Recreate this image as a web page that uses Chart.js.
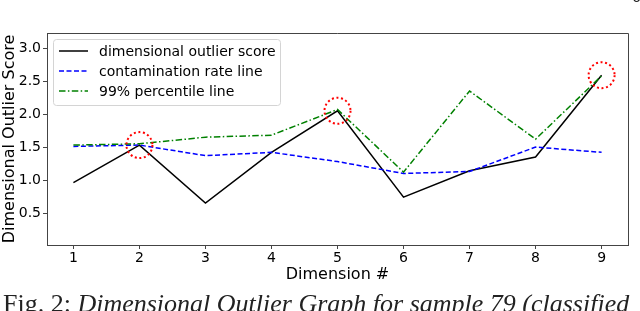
<!DOCTYPE html>
<html>
<head>
<meta charset="utf-8">
<script src="https://cdn.jsdelivr.net/npm/chart.js@4/dist/chart.umd.min.js"></script>
<style>
  html, body { margin: 0; padding: 0; background: #fff; }
  #wrap { position: relative; width: 640px; height: 311px; overflow: hidden; }
  #outlierChart { position: absolute; left: 0; top: 0; }
  #caption {
    position: absolute; left: 3px; top: 289px; white-space: nowrap;
    font-family: "Liberation Serif", serif; font-size: 26px; color: #222;
  }
  #caption i { font-style: italic; }
  #pageNum {
    position: absolute; left: 632px; top: -11px;
    font-family: "DejaVu Sans", sans-serif; font-size: 14px; color: #222;
  }
</style>
</head>
<body>
<div id="wrap">
  <canvas id="outlierChart" width="640" height="311"></canvas>
  <div id="pageNum">6</div>
  <div id="caption">Fig. 2: <i>Dimensional Outlier Graph for sample 79 (classified</i></div>
</div>
<script>
// 차원 번호 (x축)
const dimensions = [1, 2, 3, 4, 5, 6, 7, 8, 9];

// 그림에서 읽은 값들
const outlierScore = [0.96, 1.53, 0.65, 1.42, 2.05, 0.74, 1.14, 1.35, 2.59];
const contaminationLine = [1.51, 1.53, 1.37, 1.42, 1.28, 1.10, 1.13, 1.50, 1.42];
const percentileLine = [1.53, 1.55, 1.65, 1.68, 2.07, 1.12, 2.35, 1.62, 2.58];

// 빨간 점선 원으로 표시된 차원
const outlierDims = [2, 5, 9];

// 축 눈금
const yTicks = [0.5, 1.0, 1.5, 2.0, 2.5, 3.0];
const xTicks = [1, 2, 3, 4, 5, 6, 7, 8, 9];

const FONT = "'DejaVu Sans', sans-serif";

function toPoints(values) {
    return dimensions.map((d, i) => ({ x: d, y: values[i] }));
}

// 범례를 플롯 안쪽 왼쪽 위에 그리기
const innerLegend = {
    id: "innerLegend",
    afterDraw(chart) {
        const ctx = chart.ctx;
        const area = chart.chartArea;
        const x0 = area.left + 6;
        const y0 = area.top + 6;
        const w = 227, h = 66;

        ctx.save();
        ctx.beginPath();
        ctx.roundRect(x0 + 0.5, y0 + 0.5, w, h, 3);
        ctx.fillStyle = "rgba(255,255,255,0.8)";
        ctx.fill();
        ctx.strokeStyle = "#d4d4d4";
        ctx.lineWidth = 1;
        ctx.stroke();

        const items = chart.data.datasets.filter(ds => !ds.hideInLegend);
        items.forEach((ds, i) => {
            const y = y0 + 12 + i * 20;
            ctx.beginPath();
            ctx.setLineDash(ds.borderDash || []);
            ctx.strokeStyle = ds.borderColor;
            ctx.lineWidth = ds.borderWidth;
            ctx.moveTo(x0 + 6, y);
            ctx.lineTo(x0 + 35, y);
            ctx.stroke();
            ctx.setLineDash([]);
            ctx.fillStyle = "#000";
            ctx.font = `14px ${FONT}`;
            ctx.textBaseline = "middle";
            ctx.fillText(ds.label, x0 + 46, y + 1);
        });

        // 위쪽, 오른쪽 테두리
        ctx.beginPath();
        ctx.strokeStyle = "#444";
        ctx.lineWidth = 1;
        ctx.moveTo(area.left, area.top + 0.5);
        ctx.lineTo(area.right + 0.5, area.top + 0.5);
        ctx.lineTo(area.right + 0.5, area.bottom);
        ctx.stroke();
        ctx.restore();
    }
};

// 이상치 차원을 빨간 점선 원으로 표시
const outlierCircles = {
    id: "outlierCircles",
    afterDatasetsDraw(chart) {
        const idx = chart.data.datasets.findIndex(ds => ds.hideInLegend);
        const meta = chart.getDatasetMeta(idx);
        const ctx = chart.ctx;
        ctx.save();
        ctx.strokeStyle = "#ff0000";
        ctx.lineWidth = 2;
        ctx.setLineDash([2, 2.6]);
        meta.data.forEach(pt => {
            ctx.beginPath();
            ctx.arc(pt.x, pt.y, 13, 0, Math.PI * 2);
            ctx.stroke();
        });
        ctx.restore();
    }
};

const ctx = document.getElementById("outlierChart").getContext("2d");
new Chart(ctx, {
    type: "line",
    data: {
        datasets: [
            {
                label: "dimensional outlier score",
                data: toPoints(outlierScore),
                borderColor: "#000000",
                borderWidth: 1.5,
                pointRadius: 0,
                order: 3
            },
            {
                label: "contamination rate line",
                data: toPoints(contaminationLine),
                borderColor: "#0000ff",
                borderWidth: 1.5,
                borderDash: [5, 2.5],
                pointRadius: 0,
                order: 2
            },
            {
                label: "99% percentile line",
                data: toPoints(percentileLine),
                borderColor: "#008000",
                borderWidth: 1.5,
                borderDash: [6.5, 2.4, 1.5, 2.4],
                pointRadius: 0,
                order: 1
            },
            {
                label: "outliers",
                hideInLegend: true,
                data: outlierDims.map(d => ({ x: d, y: outlierScore[dimensions.indexOf(d)] })),
                showLine: false,
                pointRadius: 0,
                borderColor: "#ff0000",
                order: 0
            }
        ]
    },
    options: {
        responsive: false,
        animation: false,
        devicePixelRatio: 1,
        layout: { padding: { top: 33, right: 12, bottom: 27, left: 0 } },
        plugins: {
            legend: { display: false },
            tooltip: { enabled: false }
        },
        scales: {
            x: {
                type: "linear",
                min: 0.6,
                max: 9.4,
                afterBuildTicks: scale => { scale.ticks = xTicks.map(v => ({ value: v })); },
                afterFit: scale => { scale.height = 39; },
                grid: { drawOnChartArea: false, drawTicks: true, tickLength: 4, color: "#444" },
                border: { display: true, color: "#444", width: 1 },
                ticks: {
                    color: "#000",
                    padding: 1,
                    maxRotation: 0,
                    font: { family: FONT, size: 14 }
                },
                title: {
                    display: true,
                    text: "Dimension #",
                    color: "#000",
                    padding: 0,
                    font: { family: FONT, size: 16 }
                }
            },
            y: {
                min: 0.015,
                max: 3.23,
                afterBuildTicks: scale => { scale.ticks = yTicks.map(v => ({ value: v })); },
                afterFit: scale => { scale.width = 47; },
                grid: { drawOnChartArea: false, drawTicks: true, tickLength: 4, color: "#444" },
                border: { display: true, color: "#444", width: 1 },
                ticks: {
                    color: "#000",
                    padding: 2,
                    font: { family: FONT, size: 14 },
                    callback: v => v.toFixed(1)
                },
                title: {
                    display: true,
                    text: "Dimensional Outlier Score",
                    color: "#000",
                    padding: 0,
                    font: { family: FONT, size: 16 }
                }
            }
        }
    },
    plugins: [innerLegend, outlierCircles]
});
</script>
</body>
</html>
